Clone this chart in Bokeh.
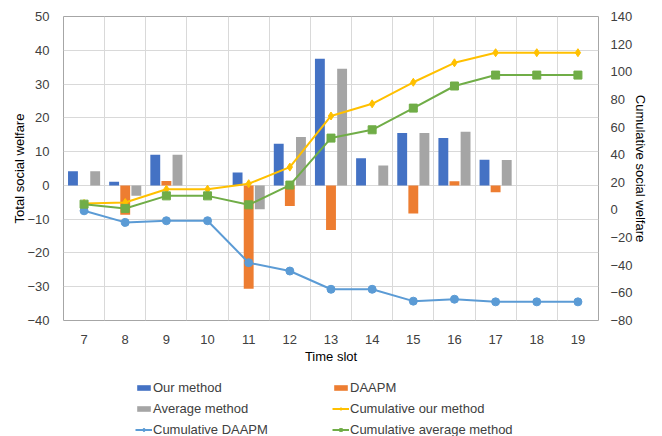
from bokeh.plotting import figure
from bokeh.models import (Range1d, LinearAxis, FixedTicker, ColumnDataSource,
                          Legend, LegendItem)
from bokeh.layouts import column
from bokeh.transform import dodge
from bokeh.embed import file_html
from bokeh.resources import INLINE

slots = [7, 8, 9, 10, 11, 12, 13, 14, 15, 16, 17, 18, 19]
our_method = [4.2, 1.1, 9.1, 0, 3.8, 12.3, 37.5, 8.0, 15.5, 14.0, 7.6, 0, 0]
daapm = [0, -8.7, 1.3, 0, -30.6, -6.1, -13.2, 0, -8.3, 1.2, -2.0, 0, 0]
average_method = [4.2, -3.1, 9.1, 0, -7.1, 14.3, 34.5, 5.9, 15.5, 15.9, 7.5, 0, 0]
cum_our = [4.7, 5.4, 15.0, 15.0, 19.0, 31.0, 68.0, 76.8, 92.4, 106.5, 113.8, 113.8, 113.8]
cum_daapm = [-0.6, -9.0, -7.8, -7.8, -38.2, -44.2, -57.4, -57.4, -66.0, -64.6, -66.5, -66.5, -66.5]
cum_avg = [4.2, 1.1, 10.2, 10.2, 3.7, 18.0, 52.0, 58.0, 73.7, 89.7, 97.6, 97.6, 97.6]
left_ticks = [-40, -30, -20, -10, 0, 10, 20, 30, 40, 50]
right_ticks = [-80, -60, -40, -20, 0, 20, 40, 60, 80, 100, 120, 140]
series_labels = ["Our method", "DAAPM", "Average method", "Cumulative our method",
                 "Cumulative DAAPM", "Cumulative average method"]

src = ColumnDataSource(dict(x=slots, our=our_method, daapm=daapm, avg=average_method,
                            cour=cum_our, cdaapm=cum_daapm, cavg=cum_avg))

FONT = "Liberation Sans"
TXT = "#404040"
C_OUR, C_DA, C_AVG = "#4472c4", "#ed7d31", "#a5a5a5"
C_COUR, C_CDA, C_CAVG = "#ffc000", "#5b9bd5", "#70ad47"

p = figure(width=662, height=366, output_backend="svg", toolbar_location=None,
           x_range=Range1d(6.5, 19.5), y_range=Range1d(-40, 50),
           min_border_left=63, min_border_right=64, min_border_top=16,
           min_border_bottom=44)
p.extra_y_ranges = {"cum": Range1d(-80, 140)}

p.outline_line_color = "#a6a6a6"
p.outline_line_width = 1

# axes
p.xaxis.ticker = FixedTicker(ticks=slots)
p.yaxis.ticker = FixedTicker(ticks=left_ticks)
for ax in (p.xaxis[0], p.yaxis[0]):
    ax.axis_line_color = None
    ax.major_tick_line_color = None
    ax.minor_tick_line_color = None
    ax.major_label_text_font = FONT
    ax.major_label_text_font_size = "13px"
    ax.major_label_text_color = TXT
    ax.axis_label_text_font = FONT
    ax.axis_label_text_font_size = "13px"
    ax.axis_label_text_font_style = "normal"
    ax.axis_label_text_color = "#000000"
p.xaxis.axis_label = "Time slot"
p.xaxis.major_label_standoff = 8
p.xaxis.axis_label_standoff = 2
p.yaxis.axis_label = "Total social welfare"
p.yaxis.major_label_standoff = 8
p.yaxis.axis_label_standoff = -3

rax = LinearAxis(y_range_name="cum", ticker=FixedTicker(ticks=right_ticks),
                 axis_label="Cumulative social welfare")
rax.axis_line_color = None
rax.major_tick_line_color = None
rax.minor_tick_line_color = None
rax.major_label_text_font = FONT
rax.major_label_text_font_size = "13px"
rax.major_label_text_color = TXT
rax.axis_label_text_font = FONT
rax.axis_label_text_font_size = "13px"
rax.axis_label_text_font_style = "normal"
rax.axis_label_text_color = "#000000"
rax.major_label_standoff = 6
rax.axis_label_standoff = -3
p.add_layout(rax, "right")

# grid
p.xgrid.ticker = FixedTicker(ticks=[s + 0.5 for s in [6] + slots])
p.xgrid.grid_line_color = "#d9d9d9"
p.ygrid.grid_line_color = "#d9d9d9"

w = 0.24
p.vbar(x=dodge("x", -0.27, range=p.x_range), top="our", bottom=0, width=w,
       source=src, fill_color=C_OUR, line_color=None)
p.vbar(x=dodge("x", 0.0, range=p.x_range), top="daapm", bottom=0, width=w,
       source=src, fill_color=C_DA, line_color=None)
p.vbar(x=dodge("x", 0.27, range=p.x_range), top="avg", bottom=0, width=w,
       source=src, fill_color=C_AVG, line_color=None)

p.line("x", "cour", source=src, y_range_name="cum", line_color=C_COUR, line_width=2)
p.scatter("x", "cour", source=src, y_range_name="cum", marker="diamond", size=8,
          fill_color=C_COUR, line_color=C_COUR)
p.line("x", "cdaapm", source=src, y_range_name="cum", line_color=C_CDA, line_width=2)
p.scatter("x", "cdaapm", source=src, y_range_name="cum", marker="circle", size=8,
          fill_color=C_CDA, line_color=C_CDA)
p.line("x", "cavg", source=src, y_range_name="cum", line_color=C_CAVG, line_width=2)
p.scatter("x", "cavg", source=src, y_range_name="cum", marker="square", size=8,
          fill_color=C_CAVG, line_color=C_CAVG)

# legend panel (separate figure below the chart); its proxy glyphs sit off-range
lf = figure(width=662, height=70, output_backend="svg", toolbar_location=None,
            x_range=Range1d(0, 1), y_range=Range1d(0, 1),
            x_axis_location=None, y_axis_location=None,
            min_border_left=0, min_border_right=0,
            min_border_top=0, min_border_bottom=0)
lf.outline_line_color = None
lf.xgrid.visible = False
lf.ygrid.visible = False
proxy = ColumnDataSource(dict(x=[-10, -11], y=[-10, -11]))
d_our = lf.rect("x", "y", 0.1, 0.1, source=proxy, fill_color=C_OUR, line_color=None)
d_da = lf.rect("x", "y", 0.1, 0.1, source=proxy, fill_color=C_DA, line_color=None)
d_avg = lf.rect("x", "y", 0.1, 0.1, source=proxy, fill_color=C_AVG, line_color=None)
d_cour_l = lf.line("x", "y", source=proxy, line_color=C_COUR, line_width=2)
d_cour_m = lf.scatter("x", "y", source=proxy, marker="diamond", size=7,
                      fill_color=C_COUR, line_color=C_COUR)
d_cda_l = lf.line("x", "y", source=proxy, line_color=C_CDA, line_width=2)
d_cda_m = lf.scatter("x", "y", source=proxy, marker="circle", size=6,
                     fill_color=C_CDA, line_color=C_CDA)
d_cavg_l = lf.line("x", "y", source=proxy, line_color=C_CAVG, line_width=2)
d_cavg_m = lf.scatter("x", "y", source=proxy, marker="square", size=6,
                      fill_color=C_CAVG, line_color=C_CAVG)

legend = Legend(items=[
    LegendItem(label=series_labels[0], renderers=[d_our]),
    LegendItem(label=series_labels[1], renderers=[d_da]),
    LegendItem(label=series_labels[2], renderers=[d_avg]),
    LegendItem(label=series_labels[3], renderers=[d_cour_l, d_cour_m]),
    LegendItem(label=series_labels[4], renderers=[d_cda_l, d_cda_m]),
    LegendItem(label=series_labels[5], renderers=[d_cavg_l, d_cavg_m]),
], ncols=2, orientation="horizontal", location=(72, -1))
legend.border_line_color = None
legend.background_fill_alpha = 0
legend.label_text_font = FONT
legend.label_text_font_size = "13px"
legend.label_text_color = TXT
legend.glyph_width = 17
legend.glyph_height = 7
legend.label_height = 14
legend.label_width = 173
legend.label_standoff = 1
legend.spacing = 6
legend.padding = 0
legend.margin = 0
lf.add_layout(legend, "center")

layout = column(p, lf, spacing=0)
open("out.html", "w").write(file_html(layout, INLINE))
